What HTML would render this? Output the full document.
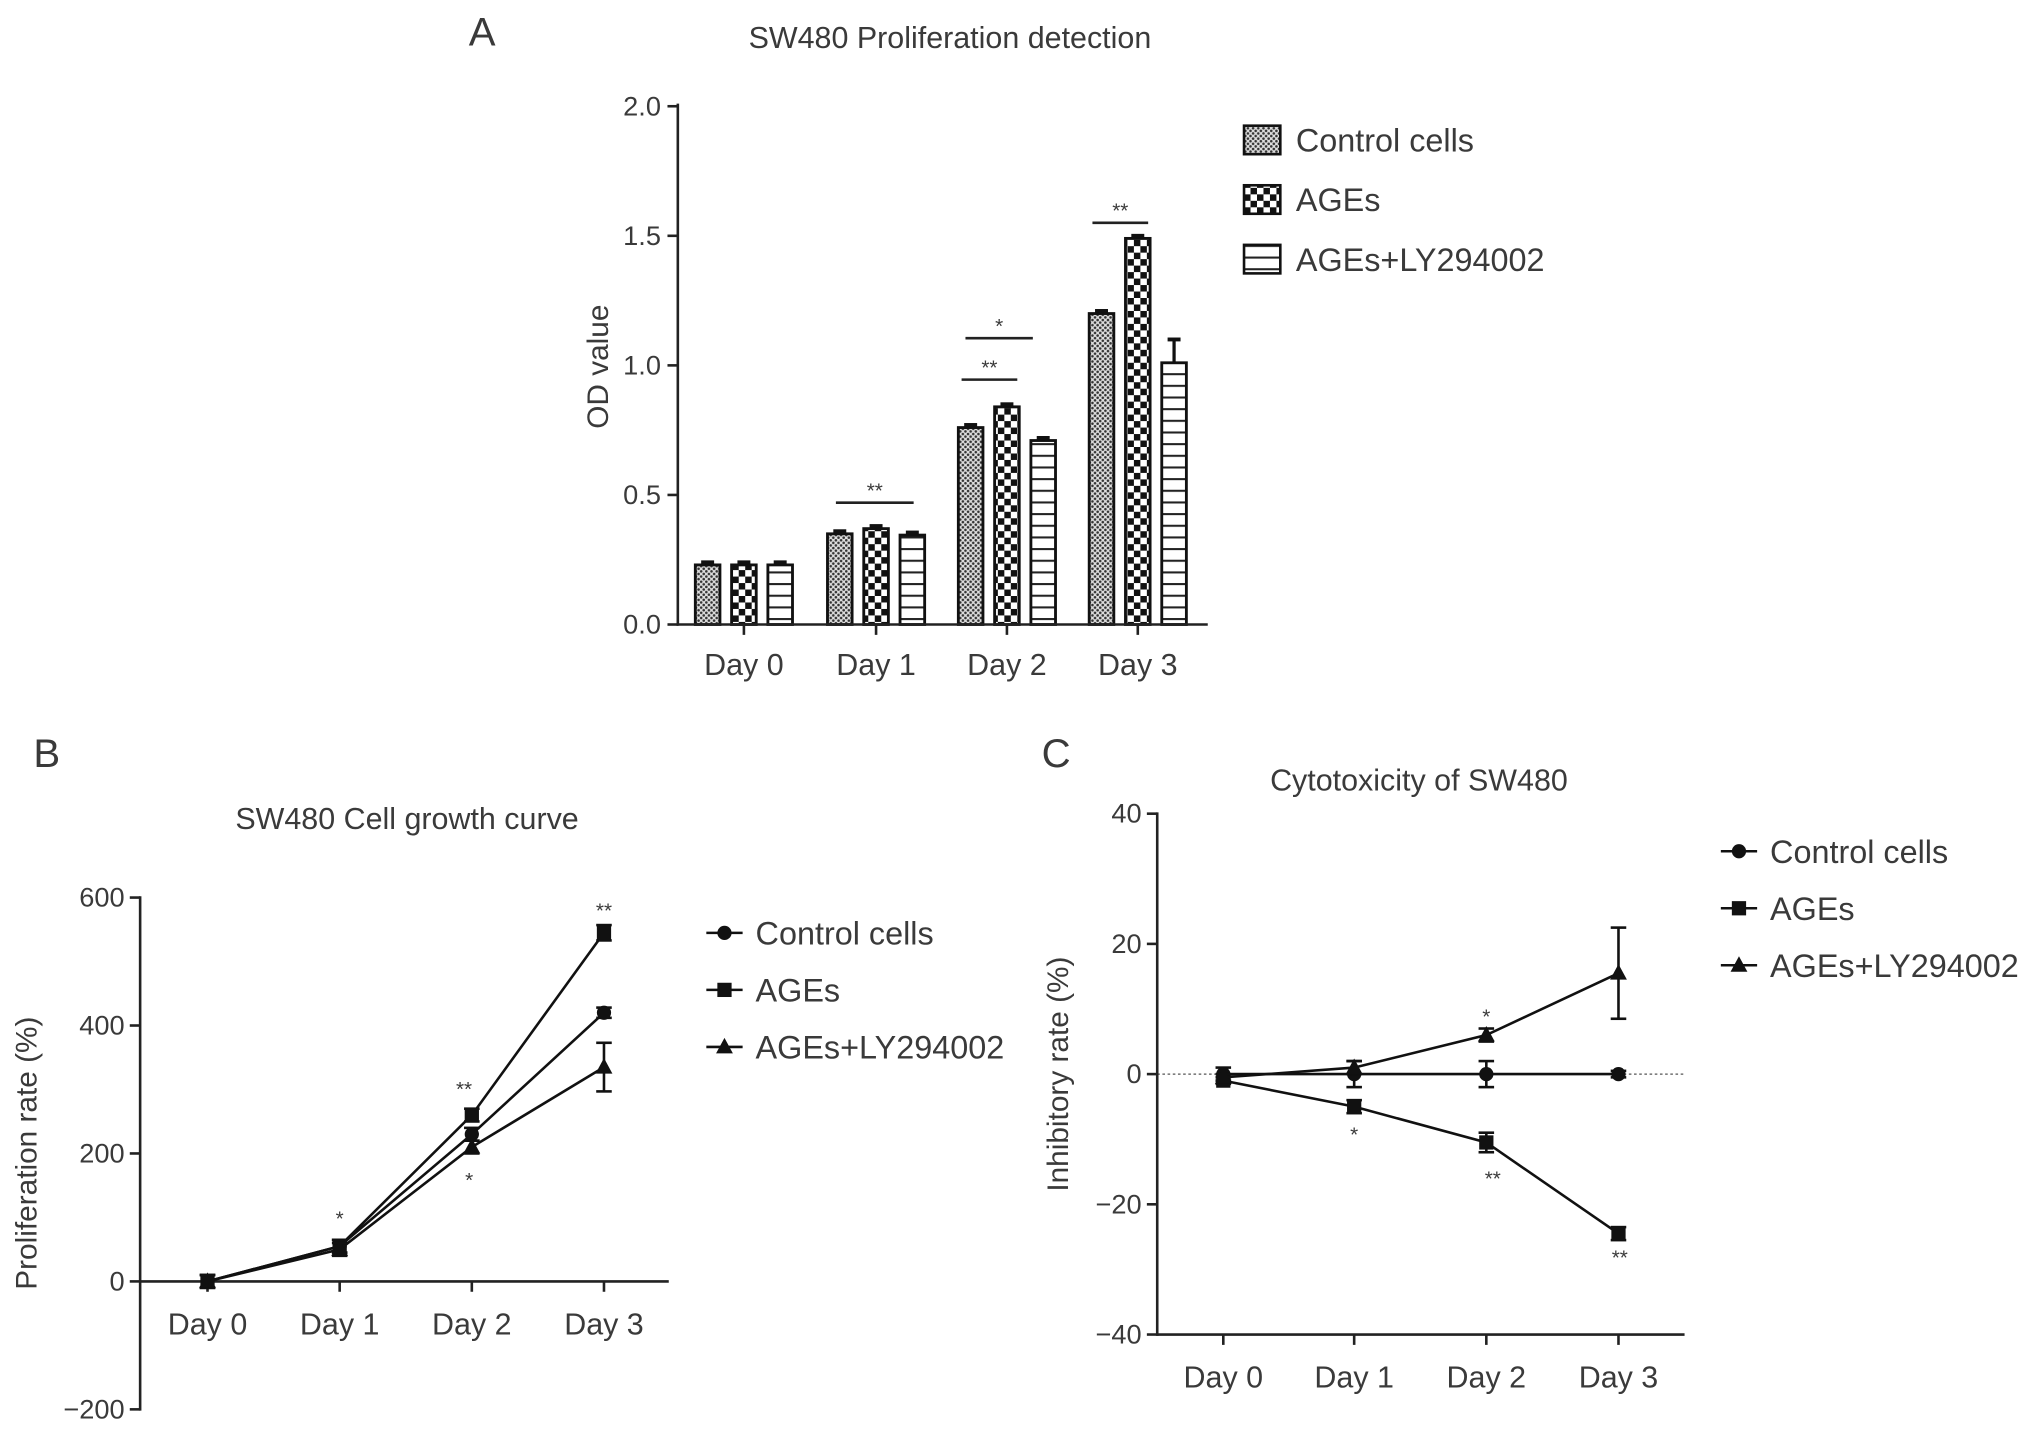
<!DOCTYPE html>
<html><head><meta charset="utf-8"><style>
html,body{margin:0;padding:0;background:#fff}
svg{display:block}
text{font-family:"Liberation Sans",sans-serif;fill:#3a3a3a}
</style></head><body>
<svg id="fig" width="2032" height="1433" viewBox="0 0 1568 1106" xmlns="http://www.w3.org/2000/svg">
<defs>
<pattern id="pDot" width="4" height="4" patternUnits="userSpaceOnUse"><rect width="4" height="4" fill="#ddd"/><circle cx="1" cy="1" r="1" fill="#333"/><circle cx="3" cy="3" r="1" fill="#333"/></pattern>
<pattern id="pCheck" width="10" height="10" patternUnits="userSpaceOnUse"><rect width="10" height="10" fill="#fff"/><rect width="5" height="5" fill="#111"/><rect x="5" y="5" width="5" height="5" fill="#111"/></pattern>
<pattern id="pLine" width="10" height="9" patternUnits="userSpaceOnUse"><rect width="10" height="9" fill="#fff"/><rect y="0" width="10" height="1.6" fill="#222"/></pattern>
</defs>
<g id="A"></g>
<g id="B"></g>
<g id="C"></g>
</svg>
<script>
const NS="http://www.w3.org/2000/svg";
const days=["Day 0","Day 1","Day 2","Day 3"];
const seriesNames=["Control cells","AGEs","AGEs+LY294002"];
// Panel A
const aControl=[0.23,0.35,0.76,1.2];
const aAGEs=[0.23,0.37,0.84,1.49];
const aLY=[0.23,0.345,0.71,1.01];
const aErr=[[0.01,0.01,0.01,0.01],[0.01,0.01,0.01,0.01],[0.01,0.01,0.01,0.09]];
const aTicks=[0,0.5,1.0,1.5,2.0];
// Panel B
const bControl=[0,55,230,420];
const bAGEs=[0,55,260,545];
const bLY=[0,50,210,335];
const bErr=[[10,10,10,8],[10,10,10,12],[10,10,10,38]];
const bTicks=[-200,0,200,400,600];
// Panel C
const cControl=[0,0,0,0];
const cAGEs=[-1,-5,-10.5,-24.5];
const cLY=[-0.5,1,6,15.5];
const cErr=[[1,2,2,0.5],[0.5,1,1.5,1],[0.5,1,1,7]];
const cTicks=[-40,-20,0,20,40];

function el(p,tag,at,txt){const e=document.createElementNS(NS,tag);for(const k in at)e.setAttribute(k,at[k]);if(txt!==undefined)e.textContent=txt;p.appendChild(e);return e;}
const fills=["url(#pDot)","url(#pCheck)","url(#pLine)"];

// ---- Panel A ----
(function(){
const g=document.getElementById('A');
const y=v=>482-v*200; const xc=i=>[574,676,777,878][i];
const off=[-28,0,28]; const bw=19;
const lbl=el(g,'text',{x:372,y:35,'font-size':31,'text-anchor':'middle'},'A');

const t=el(g,'text',{x:733,y:37,'font-size':23.5,'text-anchor':'middle'},'SW480 Proliferation detection');

const yt=el(g,'text',{x:0,y:0,'font-size':23,'text-anchor':'middle',transform:'translate(469,283) rotate(-90)'},'OD value');

const vals=[aControl,aAGEs,aLY];
vals.forEach((s,si)=>s.forEach((v,i)=>{
 const cx=xc(i)+off[si];
 const r=el(g,'rect',{x:cx-bw/2,y:y(v),width:bw,height:482-y(v),fill:fills[si],stroke:'#111','stroke-width':2.2});
 
 const e=aErr[si][i];
 el(g,'line',{x1:cx,x2:cx,y1:y(v),y2:y(v+e),stroke:'#111','stroke-width':2.5});
 el(g,'line',{x1:cx-5,x2:cx+5,y1:y(v+e),y2:y(v+e),stroke:'#111','stroke-width':3});
}));
el(g,'line',{x1:523,x2:523,y1:80,y2:483,stroke:'#222','stroke-width':2});
el(g,'line',{x1:522,x2:932,y1:482,y2:482,stroke:'#222','stroke-width':2});
aTicks.forEach(v=>{el(g,'line',{x1:515,x2:523,y1:y(v),y2:y(v),stroke:'#222','stroke-width':2});
 const tt=el(g,'text',{x:510,y:y(v)+7,'font-size':21,'text-anchor':'end'},v.toFixed(1));});
days.forEach((d,i)=>{el(g,'line',{x1:xc(i),x2:xc(i),y1:482,y2:490,stroke:'#222','stroke-width':2});
 const tt=el(g,'text',{x:xc(i),y:521,'font-size':23.5,'text-anchor':'middle'},d);});
const sig=[[645,705,388,'**'],[742,785,293,'**'],[745,797,261,'*'],[843,886,172,'**']];
sig.forEach(s=>{el(g,'line',{x1:s[0],x2:s[1],y1:s[2],y2:s[2],stroke:'#222','stroke-width':2});
 el(g,'text',{x:(s[0]+s[1])/2,y:s[2]-4,'font-size':16,'text-anchor':'middle'},s[3]);});
seriesNames.forEach((n,i)=>{const yy=108+i*46;
 el(g,'rect',{x:960,y:yy-11,width:28,height:22,fill:fills[i],stroke:'#111','stroke-width':2});
 const tt=el(g,'text',{x:1000,y:yy+9,'font-size':25},n);});
})();

function marker(g,sh,x,y){
 if(sh===0) el(g,'circle',{cx:x,cy:y,r:5.5,fill:'#111'});
 else if(sh===1) el(g,'rect',{x:x-5.5,y:y-5.5,width:11,height:11,fill:'#111'});
 else el(g,'polygon',{points:`${x},${y-7} ${x+6.5},${y+5} ${x-6.5},${y+5}`,fill:'#111'});
}
function linePanel(gid,cfg){
 const g=document.getElementById(gid);
 const y=v=>cfg.y0-v*cfg.ys; const xc=i=>cfg.xs[i];
 const lbl=el(g,'text',{x:cfg.lab[0],y:cfg.lab[1],'font-size':31,'text-anchor':'middle'},cfg.lab[2]);
 
 const t=el(g,'text',{x:cfg.title[0],y:cfg.title[1],'font-size':23.5,'text-anchor':'middle'},cfg.title[2]);
 
 const yt=el(g,'text',{x:0,y:0,'font-size':23,'text-anchor':'middle',transform:`translate(${cfg.yt[0]},${cfg.yt[1]}) rotate(-90)`},cfg.yt[2]);
 
 if(cfg.dotted) el(g,'line',{x1:cfg.ax,x2:cfg.xend,y1:y(0),y2:y(0),stroke:'#555','stroke-width':1,'stroke-dasharray':'2,2'});
 el(g,'line',{x1:cfg.ax,x2:cfg.ax,y1:y(cfg.ticks[cfg.ticks.length-1])-1,y2:y(cfg.ticks[0])+1,stroke:'#222','stroke-width':2});
 el(g,'line',{x1:cfg.ax,x2:cfg.xend,y1:cfg.xaxisY,y2:cfg.xaxisY,stroke:'#222','stroke-width':2});
 cfg.ticks.forEach(v=>{el(g,'line',{x1:cfg.ax-8,x2:cfg.ax,y1:y(v),y2:y(v),stroke:'#222','stroke-width':2});
  const tt=el(g,'text',{x:cfg.ax-12,y:y(v)+7,'font-size':21,'text-anchor':'end'},v<0?'\u2212'+(-v):String(v));});
 days.forEach((d,i)=>{el(g,'line',{x1:xc(i),x2:xc(i),y1:cfg.xaxisY,y2:cfg.xaxisY+8,stroke:'#222','stroke-width':2});
  const tt=el(g,'text',{x:xc(i),y:cfg.xaxisY+41,'font-size':23.5,'text-anchor':'middle'},d);});
 cfg.series.forEach((s,si)=>{
  const p=el(g,'polyline',{points:s.map((v,i)=>xc(i)+','+y(v)).join(' '),fill:'none',stroke:'#111','stroke-width':2});
  
  s.forEach((v,i)=>{const e=cfg.err[si][i];
   el(g,'line',{x1:xc(i),x2:xc(i),y1:y(v-e),y2:y(v+e),stroke:'#111','stroke-width':2});
   el(g,'line',{x1:xc(i)-6,x2:xc(i)+6,y1:y(v+e),y2:y(v+e),stroke:'#111','stroke-width':2});
   el(g,'line',{x1:xc(i)-6,x2:xc(i)+6,y1:y(v-e),y2:y(v-e),stroke:'#111','stroke-width':2});
   marker(g,si,xc(i),y(v));});
 });
 cfg.stars.forEach(s=>el(g,'text',{x:s[0],y:s[1],'font-size':16,'text-anchor':'middle'},s[2]));
 seriesNames.forEach((n,i)=>{const yy=cfg.leg[1]+i*44;
  el(g,'line',{x1:cfg.leg[0],x2:cfg.leg[0]+28,y1:yy,y2:yy,stroke:'#111','stroke-width':2});
  marker(g,i,cfg.leg[0]+14,yy);
  const tt=el(g,'text',{x:cfg.leg[0]+38,y:yy+9,'font-size':25},n);});
}
linePanel('B',{y0:989,ys:395/800,xs:[160,262,364,466],ax:108,xend:516,xaxisY:989,ticks:bTicks,
 series:[bControl,bAGEs,bLY],err:bErr,lab:[36,592,'B'],title:[314,640,'SW480 Cell growth curve'],yt:[28,890,'Proliferation rate (%)'],
 leg:[545,720],stars:[[262,946,'*'],[358,846,'**'],[362,916,'*'],[466,708,'**']]});
linePanel('C',{y0:829,ys:402/80,xs:[944,1045,1147,1249],ax:893,xend:1300,xaxisY:1030,ticks:cTicks,dotted:true,
 series:[cControl,cAGEs,cLY],err:cErr,lab:[815,592,'C'],title:[1095,610,'Cytotoxicity of SW480'],yt:[824,829,'Inhibitory rate (%)'],
 leg:[1328,657],stars:[[1045,881,'*'],[1147,790,'*'],[1152,915,'**'],[1250,976,'**']]});
</script>
</body></html>
